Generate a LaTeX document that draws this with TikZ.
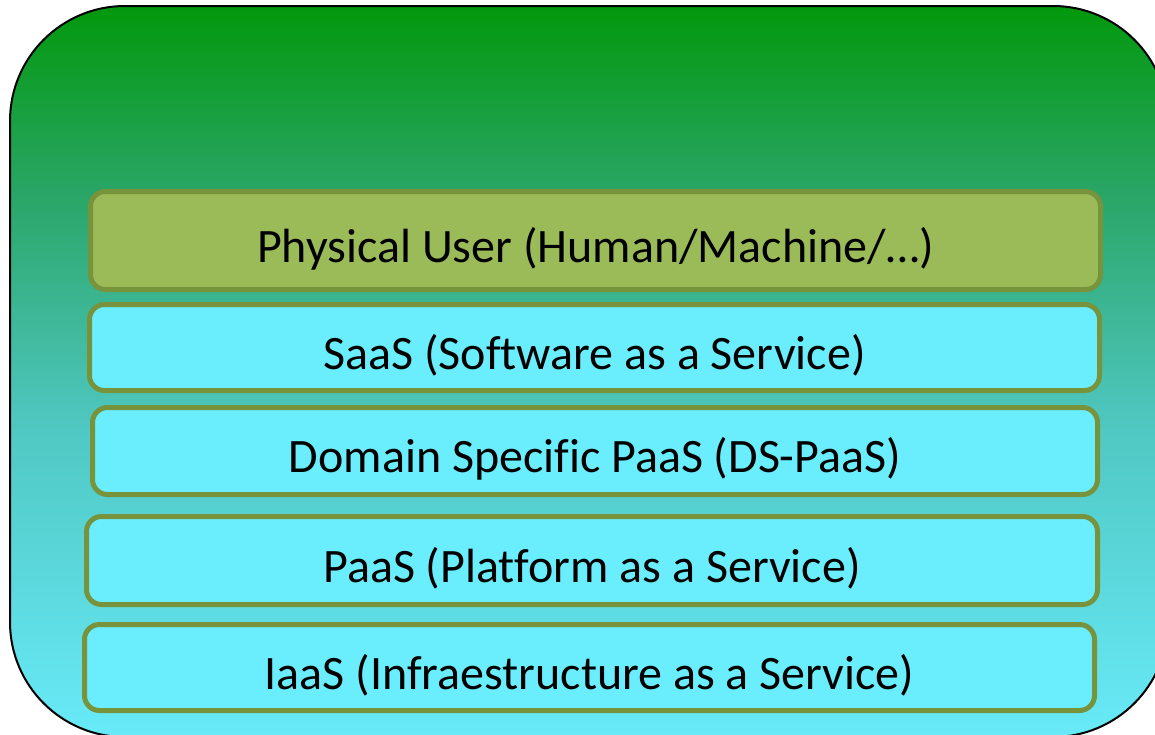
\documentclass[tikz,border=0pt]{standalone}
\usepackage{fontspec}
\setmainfont[Ligatures=NoCommon]{Carlito}
\definecolor{cT}{RGB}{2,152,12}
\definecolor{cM1}{RGB}{42,166,104}
\definecolor{cM2}{RGB}{80,200,195}
\definecolor{cB}{RGB}{104,234,248}
\definecolor{olive}{RGB}{119,147,60}
\definecolor{cyanfill}{RGB}{106,237,252}
\definecolor{greenfill}{RGB}{155,187,89}
\pgfdeclareverticalshading{bgshade}{100bp}{color(0bp)=(cB); color(25bp)=(cB); color(46bp)=(cM2); color(62bp)=(cM1); color(75bp)=(cT); color(100bp)=(cT)}
\tikzset{
  layer/.style={draw=olive, line width=5pt, rounded corners=15pt, fill=cyanfill,
    inner sep=0pt, text height=50pt, text depth=7pt,
    font=\fontsize{48}{58}\selectfont, text=black},
  userlayer/.style={layer, fill=greenfill}
}
\begin{document}
\begin{tikzpicture}[x=1pt,y=-1pt]
\useasboundingbox (0,0) rectangle (1155,734);
\clip (0,0) rectangle (1155,734);
\path[shading=bgshade, draw=black, line width=2pt, rounded corners=115pt]
  (10,6) rectangle (1168,737);
\node[userlayer, minimum width=1010pt, minimum height=98pt] (user) at (595.5,240.5) {Physical User (Human/Machine/…)};
\node[layer, minimum width=1010pt, minimum height=86pt] (saas) at (594.5,347.5) {SaaS (Software as a Service)};
\node[layer, minimum width=1005pt, minimum height=87pt] (dspaas) at (595,451) {Domain Specific PaaS (DS-PaaS)};
\node[layer, minimum width=1011pt, minimum height=88pt] (paas) at (592,560.5) {PaaS (Platform as a Service)};
\node[layer, minimum width=1010pt, minimum height=86pt] (iaas) at (589.5,667.5) {IaaS (Infraestructure as a Service)};
\end{tikzpicture}
\end{document}
